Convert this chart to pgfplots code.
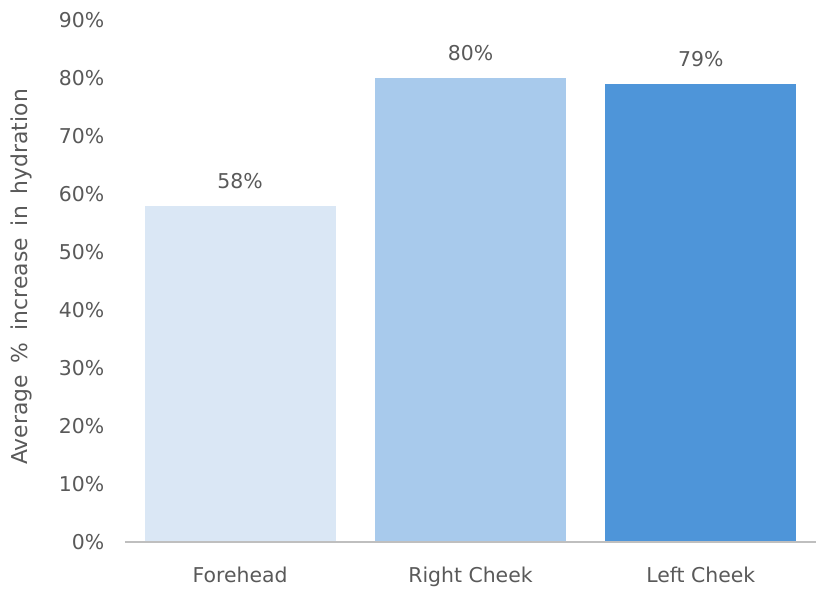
\documentclass[border=0pt]{standalone}
\usepackage{pgfplots}
\pgfplotsset{compat=1.18}
\usepackage{fontspec}
\setmainfont{DejaVu Sans}
\definecolor{txt}{HTML}{595959}
\definecolor{axl}{HTML}{BFBFBF}
\definecolor{cA}{HTML}{DAE7F5}
\definecolor{cB}{HTML}{A8CAEC}
\definecolor{cC}{HTML}{4E95D9}
\begin{document}
\begin{tikzpicture}
\path[use as bounding box] (-93.75pt,-37.5pt) rectangle (518.25pt,406.5pt);
\begin{axis}[
  scale only axis,
  width=518.25pt, height=391.5pt,
  xmin=-0.5, xmax=2.5, ymin=0, ymax=90,
  ybar, bar width=0.83,
  axis line style={draw=none},
  axis x line*=bottom, axis y line*=left,
  xtick={0,1,2}, xticklabels={Forehead,Right Cheek,Left Cheek},
  ytick={0,10,...,90},
  major tick length=0pt,
  font=\fontsize{15.3}{18}\selectfont,
  /pgf/number format/assume math mode=true,
  yticklabel={\pgfmathprintnumber{\tick}\%},
  tick label style={text=txt},
  yticklabel style={xshift=-12pt},
  xticklabel style={yshift=-15pt},
  ylabel={Average\hspace{0.55em}\%\hspace{0.55em}increase\hspace{0.55em}in\hspace{0.55em}hydration},
  ylabel style={at={(axis description cs:0,0.5)}, anchor=center, yshift=77.5pt, xshift=3pt, text=txt, font=\fontsize{16.4}{19}\selectfont},
  nodes near coords={\pgfmathprintnumber{\pgfplotspointmeta}\%},
  nodes near coords style={text=txt, yshift=9pt},
  clip=false,
]
\addplot[draw=none, fill=cA, bar shift=0pt] coordinates {(0,58)};
\addplot[draw=none, fill=cB, bar shift=0pt] coordinates {(1,80)};
\addplot[draw=none, fill=cC, bar shift=0pt] coordinates {(2,79)};
\draw[axl, line width=1.1pt] (axis cs:-0.5,0) -- (axis cs:2.5,0);
\end{axis}
\end{tikzpicture}
\end{document}
